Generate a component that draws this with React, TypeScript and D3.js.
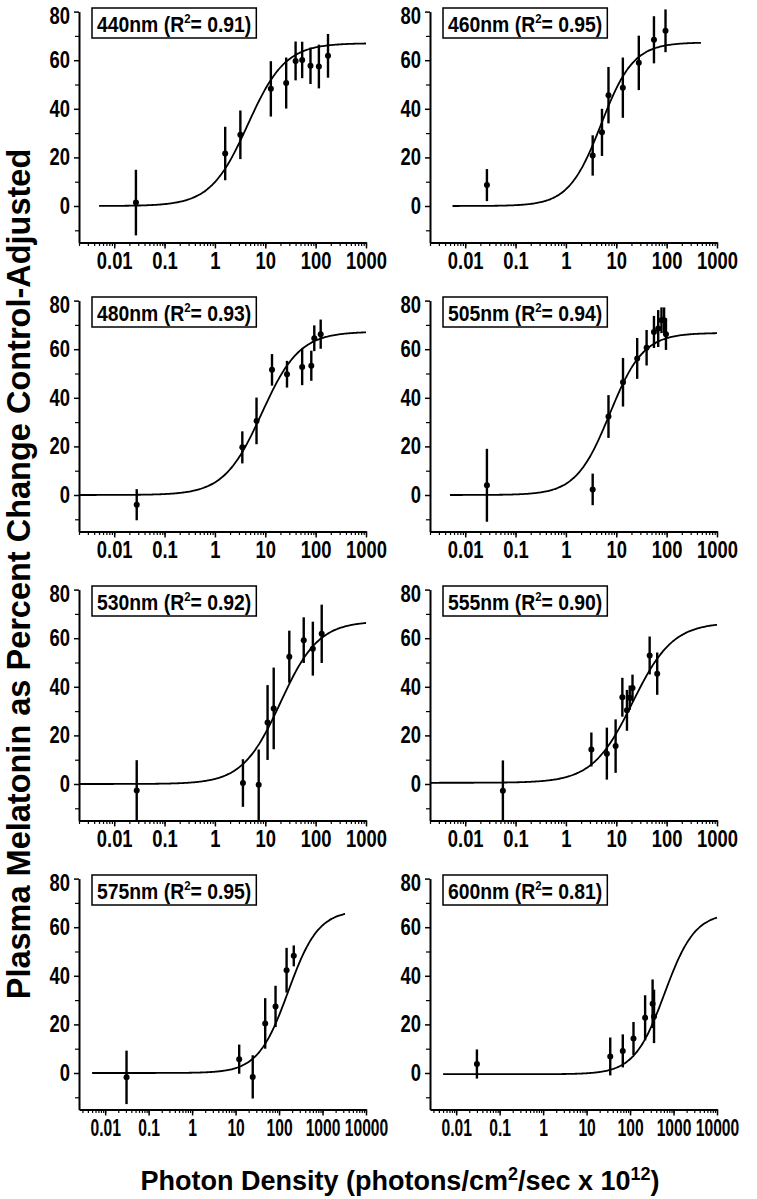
import React, { useEffect, useRef } from "react";
import * as d3 from "d3";

// ---------- DATA ----------
const panelLabels = ["440nm", "460nm", "480nm", "505nm", "530nm", "555nm", "575nm", "600nm"];
const rSquared = ["0.91", "0.95", "0.93", "0.94", "0.92", "0.90", "0.95", "0.81"];

const x440 = [0.027, 1.6, 3.2, 12.9, 26, 40, 54, 79, 116, 176];
const y440 = [1.4, 21.6, 29.3, 48.2, 50.6, 59.7, 60.1, 57.7, 57.4, 61.8];
const e440 = [13.5, 11, 10, 11.4, 10.5, 8, 7.5, 7.5, 9, 9];

const x460 = [0.027, 3.4, 5.2, 7.0, 13.5, 28, 56, 95];
const y460 = [8.6, 20.8, 30.3, 45.6, 48.7, 58.9, 68.4, 72.1];
const e460 = [6.6, 8.3, 9.7, 11.6, 12.4, 11.2, 9.7, 8.8];

const x480 = [0.028, 3.5, 6.7, 13.6, 27, 54, 82, 94, 126];
const y480 = [-4.0, 19.6, 30.5, 51.5, 49.7, 52.7, 53.2, 64.5, 66.2];
const e480 = [6.4, 6.6, 9.6, 6.5, 5.5, 7.5, 6.2, 5.3, 6];

const x505 = [0.027, 3.4, 7.0, 13.6, 26, 40, 56, 68, 79, 89, 97];
const y505 = [4.0, 2.3, 32.3, 46.4, 56.2, 60.6, 67.1, 68.5, 71.9, 71.9, 66.2];
const e505 = [15, 6.5, 8.8, 10, 8.4, 7.3, 6.6, 7.6, 5.3, 5.3, 6.5];

const x530 = [0.028, 3.6, 7.4, 11.1, 14.7, 30, 58, 88, 132];
const y530 = [-2.7, 0.4, -0.3, 25.3, 31.1, 52.4, 59.2, 55.7, 61.8];
const e530 = [12.5, 9.8, 14.5, 15.4, 16.8, 10.7, 9.4, 11.1, 12];

const x555 = [0.056, 3.2, 6.5, 9.7, 13.2, 16.3, 18.5, 21, 46, 65];
const y555 = [-2.8, 14.2, 12.5, 15.6, 35.7, 30.3, 35.5, 39.5, 52.9, 45.4];
const e555 = [12.5, 7, 10.7, 11, 8, 8.4, 5, 5.5, 7.8, 8.7];

const x575 = [0.031, 12.1, 24.8, 48, 83, 149, 218];
const y575 = [-1.8, 5.7, -1.6, 20.4, 27.4, 42.3, 48.2];
const e575 = [11, 6, 8.9, 10.4, 8.5, 9.2, 4.3];

const x600 = [0.03, 35, 68, 120, 222, 330, 356];
const y600 = [3.7, 6.8, 9.1, 14.2, 22.7, 28.5, 23.3];
const e600 = [6, 7.8, 6.8, 6.8, 9.3, 10, 11];

// fitted sigmoid parameters (bottom, top, EC50, Hill slope, drawn range)
const fitBottom = [0, 0, 0, 0, 0, 0.5, 0, -0.5];
const fitTop = [67, 67.3, 67.2, 66.7, 67, 66.5, 67, 66];
const fitEC50 = [4.5, 5.0, 8.5, 7.4, 20, 21, 162, 622];
const fitHill = [1.17, 1.35, 1.16, 1.3, 1.15, 1.09, 1.25, 1.244];
const fitFrom = [0.005, 0.0056, 0.002, 0.005, 0.002, 0.002, 0.005, 0.005];
const fitTo = [1000, 480, 1000, 1000, 1000, 1000, 3300, 10000];

const xTicksUpper = [0.01, 0.1, 1, 10, 100, 1000];
const xTicksLower = [0.01, 0.1, 1, 10, 100, 1000, 10000];
const yTickLabels = [0, 20, 40, 60, 80];
const yTickMinor = [-10, 10, 30, 50, 70];

const yTitle = "Plasma Melatonin as Percent Change Control-Adjusted";

// ---------- LAYOUT ----------
const W = 757;
const H = 1199;
const colX = [79, 430];
const plotW = 287;
const rowY0 = [206, 495, 784, 1073];
const pxPerUnit = 2.43;
const FONT = "'Liberation Sans', Arial, Helvetica, sans-serif";
const TICK_FS = 23;

export default function App() {
  const ref = useRef<SVGSVGElement>(null);

  useEffect(() => {
    const svg = d3.select(ref.current);
    svg.selectAll("*").remove();

    const panels = [
      { x: x440, y: y440, e: e440 },
      { x: x460, y: y460, e: e460 },
      { x: x480, y: y480, e: e480 },
      { x: x505, y: y505, e: e505 },
      { x: x530, y: y530, e: e530 },
      { x: x555, y: y555, e: e555 },
      { x: x575, y: y575, e: e575 },
      { x: x600, y: y600, e: e600 },
    ];

    panels.forEach((p, i) => {
      const col = i % 2;
      const row = Math.floor(i / 2);
      const left = colX[col];
      const y0 = rowY0[row];
      const lower = row === 3;
      const xMin = lower ? 0.0025 : 0.002;
      const xMax = lower ? 10000 : 1000;
      const sxTick = lower ? 0.68 : 0.8;
      const x = d3.scaleLog().domain([xMin, xMax]).range([left, left + plotW]);
      const y = d3
        .scaleLinear()
        .domain([-15, 80])
        .range([y0 + 15 * pxPerUnit, y0 - 80 * pxPerUnit]);

      const g = svg.append("g");

      // x axis minor ticks
      const minor: number[] = [];
      for (let e = -3; e <= 4; e++) {
        for (let m = 1; m <= 9; m++) {
          const v = m * Math.pow(10, e);
          if (v >= xMin * 0.999 && v <= xMax * 1.001) minor.push(v);
        }
      }
      const xAxisY = y(-15);
      g.append("g")
        .attr("transform", `translate(0,${xAxisY})`)
        .call(d3.axisBottom(x).tickValues(minor).tickSize(3.5).tickFormat(() => "").tickSizeOuter(0))
        .call((s) => s.select(".domain").attr("stroke-width", 2))
        .call((s) => s.selectAll(".tick line").attr("stroke-width", 1.2));
      const majors = lower ? xTicksLower : xTicksUpper;
      g.append("g")
        .attr("transform", `translate(0,${xAxisY})`)
        .call(
          d3
            .axisBottom(x)
            .tickValues(majors)
            .tickSize(6)
            .tickFormat((d) => String(d))
            .tickSizeOuter(0)
        )
        .call((s) => s.select(".domain").remove())
        .call((s) => s.selectAll(".tick line").attr("stroke-width", 1.5))
        .call((s) =>
          s
            .selectAll("text")
            .attr("y", 10)
            .attr("transform", `scale(${sxTick},1)`)
            .attr("font-size", TICK_FS)
            .attr("font-weight", "bold")
            .attr("font-family", FONT)
            .attr("fill", "#000")
        );

      // y axis
      g.append("g")
        .attr("transform", `translate(${left},0)`)
        .call(d3.axisLeft(y).tickValues(yTickMinor).tickSize(4).tickFormat(() => "").tickSizeOuter(0))
        .call((s) => s.select(".domain").attr("stroke-width", 2))
        .call((s) => s.selectAll(".tick line").attr("stroke-width", 1.2));
      g.append("g")
        .attr("transform", `translate(${left},0)`)
        .call(d3.axisLeft(y).tickValues(yTickLabels).tickSize(5).tickFormat((d) => String(d)).tickSizeOuter(0))
        .call((s) => s.select(".domain").remove())
        .call((s) => s.selectAll(".tick line").attr("stroke-width", 1.5))
        .call((s) =>
          s
            .selectAll<SVGTextElement, number>("text")
            .attr("x", -9 / 0.8)
            .attr("transform", "scale(0.8,1)")
            .attr("dy", (d) => (d === 80 ? "0.5em" : "0.32em"))
            .attr("font-size", TICK_FS)
            .attr("font-weight", "bold")
            .attr("font-family", FONT)
            .attr("fill", "#000")
        );

      // fitted curve
      const lf = Math.log10(fitFrom[i]);
      const lt = Math.log10(fitTo[i]);
      const samples = d3.range(0, 201).map((k) => Math.pow(10, lf + ((lt - lf) * k) / 200));
      const fy = (v: number) =>
        fitBottom[i] +
        (fitTop[i] - fitBottom[i]) / (1 + Math.pow(10, (Math.log10(fitEC50[i]) - Math.log10(v)) * fitHill[i]));
      const line = d3
        .line<number>()
        .x((v) => x(v))
        .y((v) => y(fy(v)))
        .curve(d3.curveBasis);
      g.append("path").attr("d", line(samples)).attr("fill", "none").attr("stroke", "#000").attr("stroke-width", 1.8);

      // error bars + points
      p.x.forEach((xv, k) => {
        g.append("line")
          .attr("x1", x(xv))
          .attr("x2", x(xv))
          .attr("y1", y(p.y[k] - p.e[k]))
          .attr("y2", y(p.y[k] + p.e[k]))
          .attr("stroke", "#000")
          .attr("stroke-width", 2.4);
        g.append("circle").attr("cx", x(xv)).attr("cy", y(p.y[k])).attr("r", 3).attr("fill", "#000");
      });

      // legend box
      const boxX = left + 13;
      const boxY = y(80) - 3.6;
      const boxH = 30;
      const sxLeg = 0.88;
      const lg = g.append("g");
      const rect = lg.append("rect");
      const t = lg
        .append("text")
        .attr("transform", `translate(${boxX + 5},${boxY + 23.5}) scale(${sxLeg},1)`)
        .attr("font-size", 22)
        .attr("font-weight", "bold")
        .attr("font-family", FONT)
        .attr("fill", "#000");
      t.append("tspan").text(`${panelLabels[i]} (R`);
      t.append("tspan").attr("font-size", 13).attr("dy", -9).text("2");
      t.append("tspan").attr("dy", 9).text(`= ${rSquared[i]})`);
      const bb = (t.node() as SVGTextElement).getBBox();
      rect
        .attr("x", boxX)
        .attr("y", boxY)
        .attr("width", bb.width * sxLeg + 10)
        .attr("height", boxH)
        .attr("fill", "#fff")
        .attr("stroke", "#000")
        .attr("stroke-width", 1.5);
    });

    // Y title
    svg
      .append("text")
      .attr("transform", "translate(30,574) rotate(-90)")
      .attr("text-anchor", "middle")
      .attr("font-size", 32.5)
      .attr("font-weight", "bold")
      .attr("font-family", FONT)
      .text(yTitle);

    // X title
    const xt = svg
      .append("text")
      .attr("x", 400)
      .attr("y", 1190)
      .attr("text-anchor", "middle")
      .attr("font-size", 27)
      .attr("font-weight", "bold")
      .attr("font-family", FONT);
    xt.append("tspan").text("Photon Density (photons/cm");
    xt.append("tspan").attr("font-size", 18).attr("dy", -10).text("2");
    xt.append("tspan").attr("dy", 10).text("/sec x 10");
    xt.append("tspan").attr("font-size", 18).attr("dy", -10).text("12");
    xt.append("tspan").attr("dy", 10).text(")");
  }, []);

  return (
    <svg
      ref={ref}
      width={W}
      height={H}
      style={{ position: "absolute", left: 0, top: 0, background: "#fff" }}
    />
  );
}
